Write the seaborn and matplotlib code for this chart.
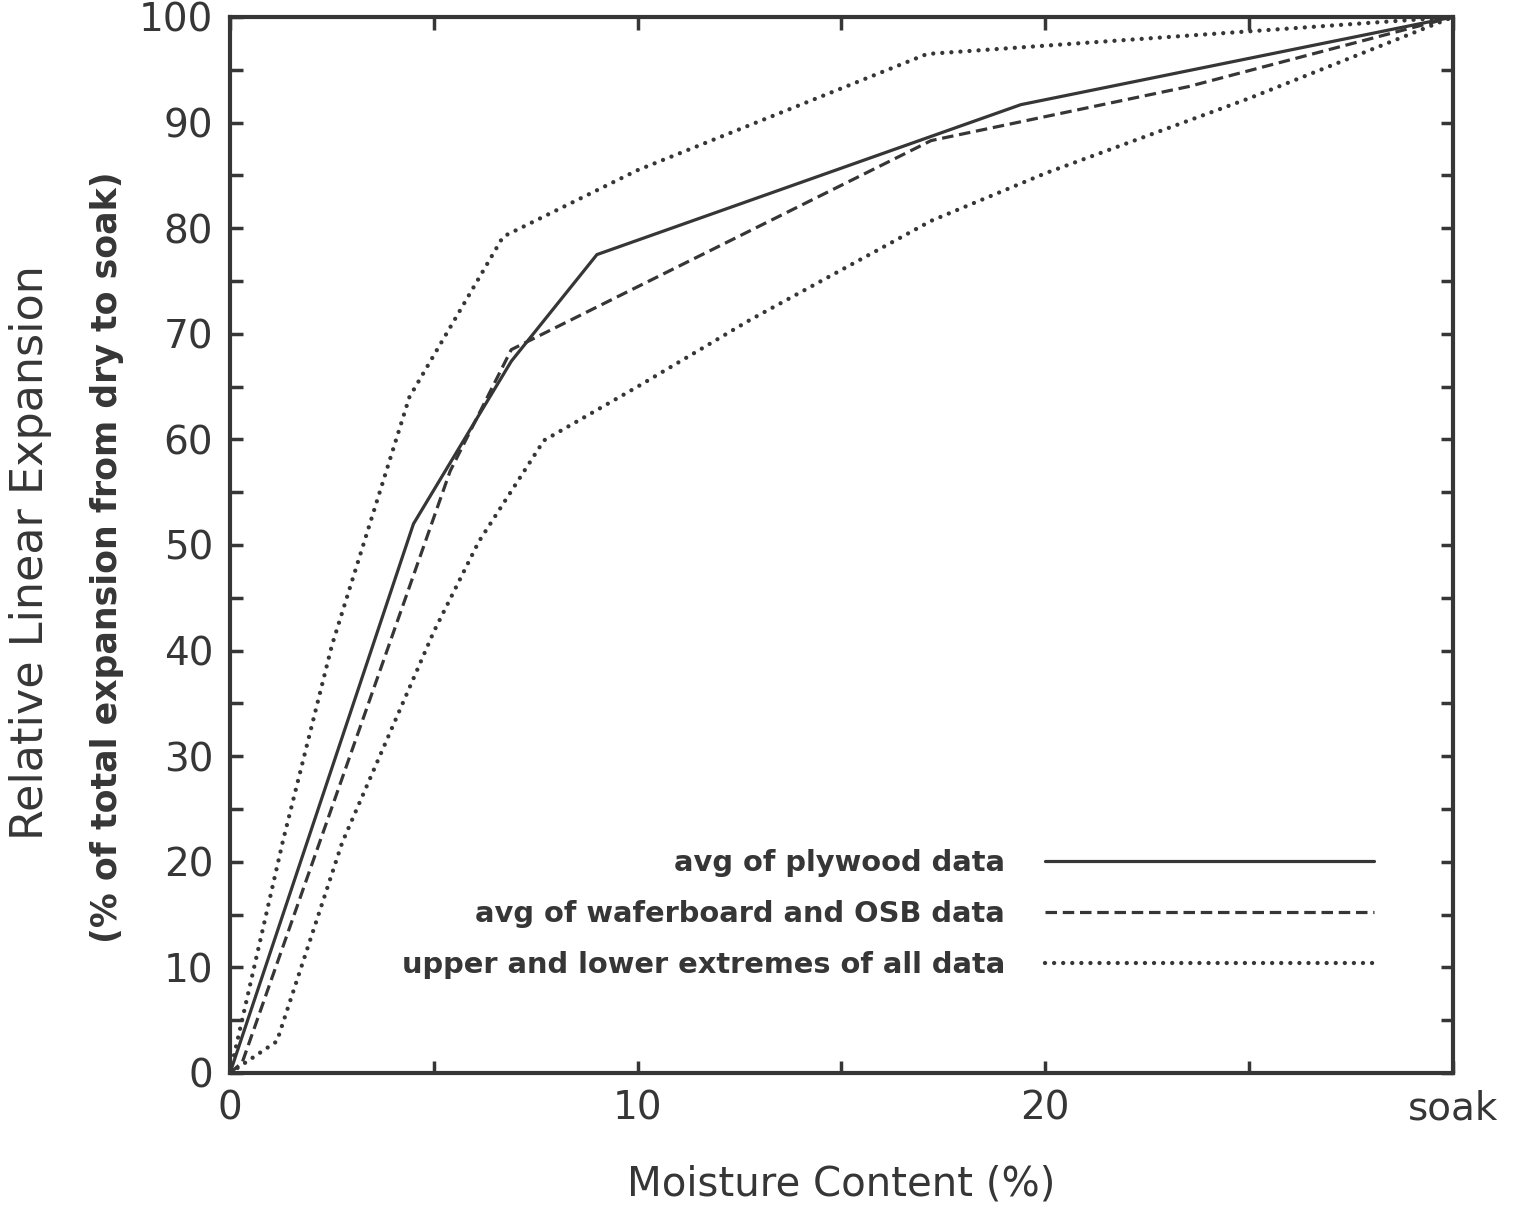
import matplotlib
matplotlib.use("Agg")
import matplotlib.pyplot as plt
import seaborn as sns
import pandas as pd

# ---- data ----
mc_plywood = [0, 4.5, 6.9, 9.0, 19.4, 30]
rle_plywood = [0, 52, 67.4, 77.5, 91.7, 100]

mc_osb = [0, 0.3, 5.4, 6.9, 17.2, 23.5, 30]
rle_osb = [0, 1, 57, 68.5, 88.3, 93.4, 100]

mc_upper = [0, 1.3, 2.5, 4.4, 6.7, 10, 17.1, 30]
rle_upper = [0, 22, 40.5, 64, 79.2, 85.5, 96.5, 100]

mc_lower = [0, 1.15, 2.75, 5.0, 6.1, 7.7, 10, 12.75, 17.2, 20, 25, 30]
rle_lower = [0, 3, 21.8, 41.8, 50.3, 59.9, 65, 71.3, 80.7, 85.2, 92.3, 100]

x_ticks = [0, 5, 10, 15, 20, 25, 30]
x_ticklabels = ["0", "", "10", "", "20", "", "soak"]
y_ticks = list(range(0, 101, 5))
y_ticklabels = [str(v) if v % 10 == 0 else "" for v in y_ticks]

labels = ["avg of plywood data", "avg of waferboard and OSB data",
          "upper and lower extremes of all data"]

sns.set_theme(style="ticks")
plt.rcParams['font.family'] = ['DejaVu Sans']

INK = "#363636"

fig = plt.figure(figsize=(15.21, 12.09), dpi=100)
ax = fig.add_axes([230/1521, 1-1073/1209, 1223/1521, 1056/1209])

lw = 2.3
df_ply = pd.DataFrame({"mc": mc_plywood, "rle": rle_plywood})
df_osb = pd.DataFrame({"mc": mc_osb, "rle": rle_osb})
df_up = pd.DataFrame({"mc": mc_upper, "rle": rle_upper})
df_lo = pd.DataFrame({"mc": mc_lower, "rle": rle_lower})

dot_style = (0, (0.01, 2.1))
sns.lineplot(data=df_ply, x="mc", y="rle", ax=ax, color=INK, lw=lw,
             sort=False, estimator=None, label=labels[0])
sns.lineplot(data=df_osb, x="mc", y="rle", ax=ax, color=INK, lw=lw,
             sort=False, estimator=None, label=labels[1],
             linestyle=(0, (3.6, 1.8)))
sns.lineplot(data=df_up, x="mc", y="rle", ax=ax, color=INK, lw=3.1,
             sort=False, estimator=None, label=labels[2],
             linestyle=dot_style, dash_capstyle="round")
sns.lineplot(data=df_lo, x="mc", y="rle", ax=ax, color=INK, lw=3.1,
             sort=False, estimator=None, label="_nolegend_",
             linestyle=dot_style, dash_capstyle="round")

ax.set_xlim(0, 30)
ax.set_ylim(0, 100)
ax.set_xticks(x_ticks)
ax.set_xticklabels(x_ticklabels)
ax.set_yticks(y_ticks)
ax.set_yticklabels(y_ticklabels)
ax.tick_params(direction="in", length=9, width=2.5, top=True, right=True,
               labelsize=28, pad=12, color=INK, labelcolor=INK)
for sp in ax.spines.values():
    sp.set_visible(True)
    sp.set_linewidth(3)
    sp.set_color(INK)

ax.set_xlabel("")
ax.set_ylabel("")
ax.text(0.5, -0.106, "Moisture Content (%)", transform=ax.transAxes,
        ha="center", va="center", fontsize=29, color=INK)
ax.text(-0.1635, 0.493, "Relative Linear Expansion", transform=ax.transAxes,
        ha="center", va="center", rotation=90, fontsize=32, color=INK)
ax.text(-0.1006, 0.488, "(% of total expansion from dry to soak)",
        transform=ax.transAxes, ha="center", va="center", rotation=90,
        fontsize=25, fontweight="bold", color=INK)

leg = ax.legend(loc="lower right", bbox_to_anchor=(0.945, 0.078),
                frameon=False, markerfirst=False, handlelength=11.4,
                handletextpad=1.38, labelspacing=0.8, borderaxespad=0,
                prop={"size": 20.8, "weight": "bold"})
for t in leg.get_texts():
    t.set_color(INK)

fig.savefig("out.png", dpi=100)
